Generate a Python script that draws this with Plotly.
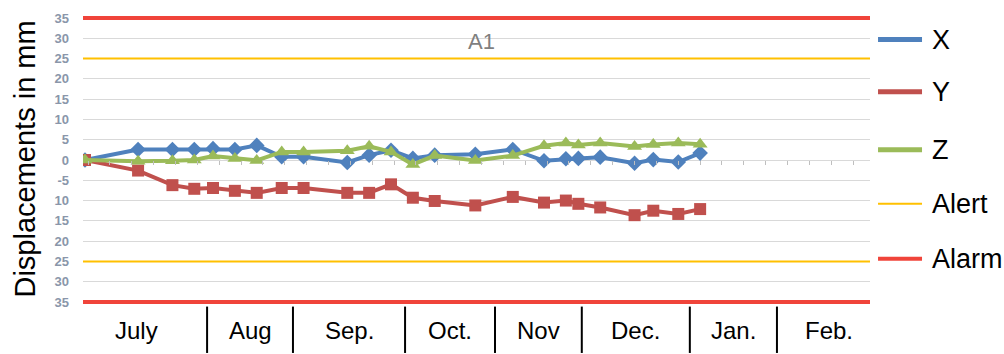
import plotly.graph_objects as go

# Survey days (days since first reading) and displacements in mm
days = [0, 17, 28, 35, 41, 48, 55, 63, 70, 84, 91, 98, 105, 112, 125, 137,
        147, 154, 158, 165, 176, 182, 190, 197]
disp_x = [0, 2.6, 2.6, 2.6, 2.8, 2.6, 3.6, 0.8, 0.8, -0.6, 1.2, 2.4, 0.4, 1.2,
          1.4, 2.6, -0.2, 0.3, 0.4, 0.7, -0.8, 0.1, -0.5, 1.7]
disp_y = [0, -2.6, -6.2, -7.1, -6.9, -7.6, -8.1, -6.9, -6.9, -8.1, -8.1, -6.0,
          -9.3, -10.1, -11.2, -9.1, -10.5, -10.0, -10.8, -11.7, -13.6, -12.5,
          -13.3, -12.1]
disp_z = [0, -0.3, -0.2, 0, 1.0, 0.4, -0.1, 2.0, 2.0, 2.3, 3.4, 2.0, -1.1, 1.1,
          -0.1, 1.1, 3.5, 4.2, 3.7, 4.2, 3.3, 3.8, 4.2, 3.9]

# Threshold levels (mm)
alert_level = 25
alarm_level = 35

# Month table under the chart: boundaries in days and labels
month_labels = ["July", "Aug", "Sep.", "Oct.", "Nov", "Dec.", "Jan.", "Feb."]
month_bounds = [-5.8, 39.1, 66.6, 102.5, 131.3, 159.1, 193.7, 221.6, 255.0]

# Y tick labels as printed on the axis
y_tickvals = list(range(35, -40, -5))
y_ticktext = ["35", "30", "25", "20", "15", "10", "5", "0", "-5",
              "10", "15", "20", "25", "30", "35"]

X_RANGE = [-0.64, 251.4]
Y_RANGE = [-35.5, 35.5]

BLUE = "#4F81BD"
RED = "#C0504D"
GREEN = "#9BBB59"
ALERT_C = "#FFC000"
ALARM_C = "#F0443A"
FONT = "Liberation Sans"

fig = go.Figure()

series = [("X", disp_x, BLUE, "diamond", 12),
          ("Y", disp_y, RED, "square", 12),
          ("Z", disp_z, GREEN, "triangle-up", 13)]

for name, vals, col, sym, size in series:
    fig.add_trace(go.Scatter(
        x=days, y=vals, mode="lines+markers", name=name, showlegend=False,
        line=dict(color=col, width=4),
        marker=dict(symbol=sym, size=size, color=col),
    ))

fig.add_trace(go.Scatter(
    x=[X_RANGE[0], X_RANGE[1], None, X_RANGE[0], X_RANGE[1]],
    y=[alert_level, alert_level, None, -alert_level, -alert_level],
    mode="lines", name="Alert", showlegend=False,
    line=dict(color=ALERT_C, width=2),
))
fig.add_trace(go.Scatter(
    x=[X_RANGE[0], X_RANGE[1], None, X_RANGE[0], X_RANGE[1]],
    y=[alarm_level, alarm_level, None, -alarm_level, -alarm_level],
    mode="lines", name="Alarm", showlegend=False,
    line=dict(color=ALARM_C, width=4),
))

# Legend column on the right: line sample + label per entry
legend_items = [(s[0], s[2], 5) for s in series] + \
               [("Alert", ALERT_C, 2), ("Alarm", ALARM_C, 4)]
legend_rows_y = [0.918, 0.737, 0.536, 0.348, 0.157]
for (name, col, w), ly in zip(legend_items, legend_rows_y):
    fig.add_shape(type="line", xref="paper", yref="paper",
                  x0=1.0102, x1=1.0661, y0=ly, y1=ly,
                  line=dict(color=col, width=w))
    fig.add_annotation(x=1.0762, xref="paper", y=ly, yref="paper", text=name,
                       showarrow=False, xanchor="left", yanchor="middle",
                       font=dict(family=FONT, size=27, color="#000000"))

# Month labels and column separators beneath the plot
for i, lab in enumerate(month_labels):
    mid = (month_bounds[i] + month_bounds[i + 1]) / 2
    fig.add_annotation(x=mid, xref="x", y=-0.092, yref="paper", text=lab,
                       showarrow=False, xanchor="center", yanchor="middle",
                       font=dict(family=FONT, size=24, color="#000000"))
for b in month_bounds[1:-1]:
    fig.add_shape(type="line", xref="x", yref="paper", x0=b, x1=b,
                  y0=-0.009, y1=-0.17, line=dict(color="#000000", width=2))

fig.add_annotation(x=-0.0737, xref="paper", y=0.505, yref="paper",
                   text="Displacements in mm", textangle=-90, showarrow=False,
                   xanchor="center", yanchor="middle",
                   font=dict(family=FONT, size=29, color="#000000"))
fig.add_annotation(x=0.506, xref="paper", y=0.911, yref="paper", text="A1",
                   showarrow=False, xanchor="center", yanchor="middle",
                   font=dict(family=FONT, size=22, color="#7F7F7F"))

fig.update_layout(
    width=1004, height=354,
    margin=dict(l=83, r=134, t=11, b=50),
    paper_bgcolor="white", plot_bgcolor="white",
    showlegend=False,
    xaxis=dict(range=X_RANGE, showgrid=False, zeroline=False, showline=False,
               showticklabels=False, ticks="outside", ticklen=4,
               tickcolor="#BFBFBF", tickmode="linear", tick0=1, dtick=7,
               anchor="free", position=0.5),
    yaxis=dict(range=Y_RANGE, tickvals=y_tickvals, ticktext=y_ticktext,
               showgrid=True, gridcolor="#D9D9D9", gridwidth=1,
               zeroline=False, showline=False, ticks="",
               ticklabelstandoff=13,
               tickfont=dict(family=FONT, size=13, color="#8A96AA",
                             weight="bold")),
)

fig.write_html("out.html")
